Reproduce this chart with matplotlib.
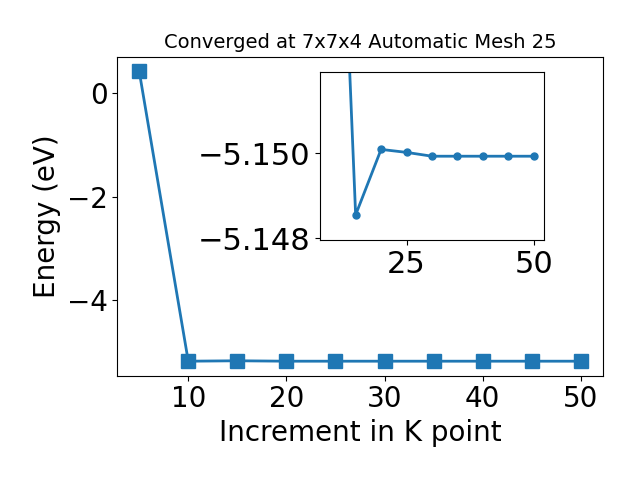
import matplotlib
matplotlib.use("Agg")
import matplotlib.pyplot as plt

# Main panel
kpoints = [5, 10, 15, 20, 25, 30, 35, 40, 45, 50]
energy = [0.43, -5.18, -5.172, -5.18, -5.18, -5.18, -5.18, -5.18, -5.18, -5.18]

# Inset
inset_k = [10, 15, 20, 25, 30, 35, 40, 45, 50]
inset_e = [-5.163, -5.14855, -5.15009, -5.15002, -5.14993, -5.14993, -5.14993, -5.14993, -5.14993]

title = "Converged at 7x7x4 Automatic Mesh 25"
color = "#1f77b4"

fig = plt.figure(figsize=(6.4, 4.8), dpi=100)
ax = fig.add_axes([0.183, 0.2173, 0.759, 0.6646])
ax.plot(kpoints, energy, marker="s", markersize=10, color=color, linewidth=2)
ax.set_title(title, fontsize=14)
ax.set_xlabel("Increment in K point", fontsize=20)
ax.set_ylabel("Energy (eV)", fontsize=20)
ax.tick_params(labelsize=20)
ax.set_xticks([10, 20, 30, 40, 50])
ax.set_yticks([0, -2, -4])

ins = fig.add_axes([0.5, 0.5, 0.35, 0.35])
ins.plot(inset_k, inset_e, marker="o", markersize=5, color=color, linewidth=2)
ins.set_ylim(-5.14796, -5.15191)
ins.set_xticks([25, 50])
ins.set_yticks([-5.150, -5.148])
ins.set_yticklabels(["\u22125.150", "\u22125.148"])
ins.tick_params(labelsize=22)

fig.savefig("out.png", dpi=100)
